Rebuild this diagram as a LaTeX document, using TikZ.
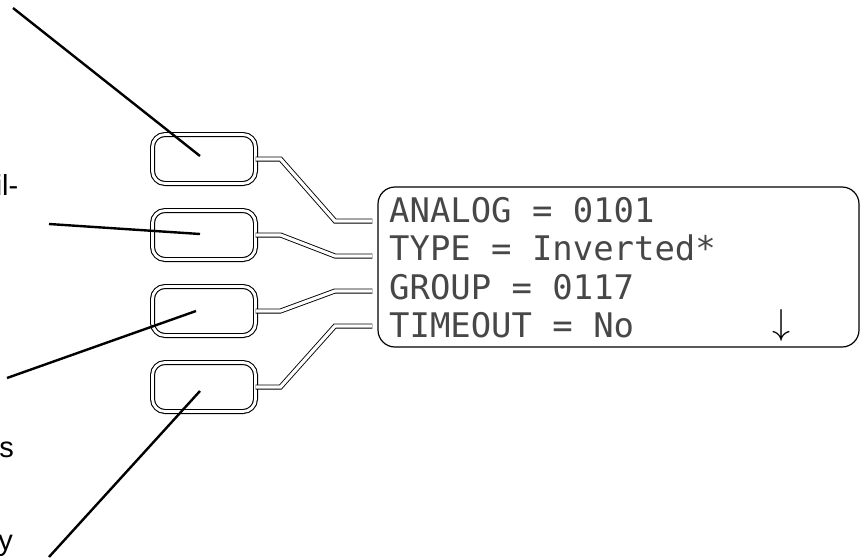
\documentclass[tikz,border=0pt]{standalone}
\usepackage{fontspec}
\setmainfont{Liberation Sans}
\newfontfamily\lcdfont{DejaVu Sans Mono}
\usetikzlibrary{positioning}

\begin{document}
\begin{tikzpicture}[x=1pt,y=-1pt,node distance=27pt,
  btn/.style={draw,double,line width=1.1pt,double distance=2.8pt,rounded corners=12.5pt,
    minimum width=103pt,minimum height=49pt,inner sep=0pt,outer sep=0pt},
  wire/.style={draw,double,line width=0.9pt,double distance=3.2pt,shorten >=5pt},
  ptr/.style={line width=2.4pt},
  scr/.style={draw,line width=1.2pt,rounded corners=17pt,minimum width=481pt,minimum height=160pt,inner sep=0pt},
  row/.style={anchor=base west,inner sep=0pt,text=black!72,font=\lcdfont\fontsize{33.9}{38}\selectfont},
  lbl/.style={anchor=base east,inner sep=0pt,font=\fontsize{29}{34}\selectfont}]
\useasboundingbox (0,0) rectangle (863,560);
% keys
\node[btn] (b1) at (204,159) {};
\node[btn,below=of b1] (b2) {};
\node[btn,below=of b2] (b3) {};
\node[btn,below=of b3] (b4) {};
% display
\node[scr] (lcd) at (618.5,267) {};
\node[row] (r1) at (389,222) {ANALOG = 0101};
\node[row] (r2) at (389,260.5) {TYPE = Inverted*};
\node[row] (r3) at (389,299) {GROUP = 0117};
\node[row] (r4) at (389,337.5) {TIMEOUT = No};
\node[inner sep=0pt,font=\fontsize{24}{28}\selectfont] (dn) at (782,325) {\scalebox{1.45}{$\downarrow$}};
\foreach \b/\yd in {1/221,2/256,3/291,4/326}
  \draw[wire] (b\b.east) -- ++(25,0) -- (335,\yd) -- (lcd.west |- 0,\yd);
% cut-off labels and pointers
\node[lbl] (t1) at (18.5,195) {il-};
\node[lbl] (t2) at (14,457) {s};
\node[lbl] (t3) at (13,550) {y};
\coordinate (p1) at (13,8);
\coordinate (p2) at (49,224);
\coordinate (p3) at (7,378);
\coordinate (p4) at (49,557);
\draw[ptr] (p1) -- ([shift={(-4,-3)}]b1.center);
\draw[ptr] (p2) -- ([shift={(-4,-1)}]b2.center);
\draw[ptr] (p3) -- ([shift={(-8,0)}]b3.center);
\draw[ptr] (p4) -- ([shift={(-4,4)}]b4.center);
\end{tikzpicture}
\end{document}
